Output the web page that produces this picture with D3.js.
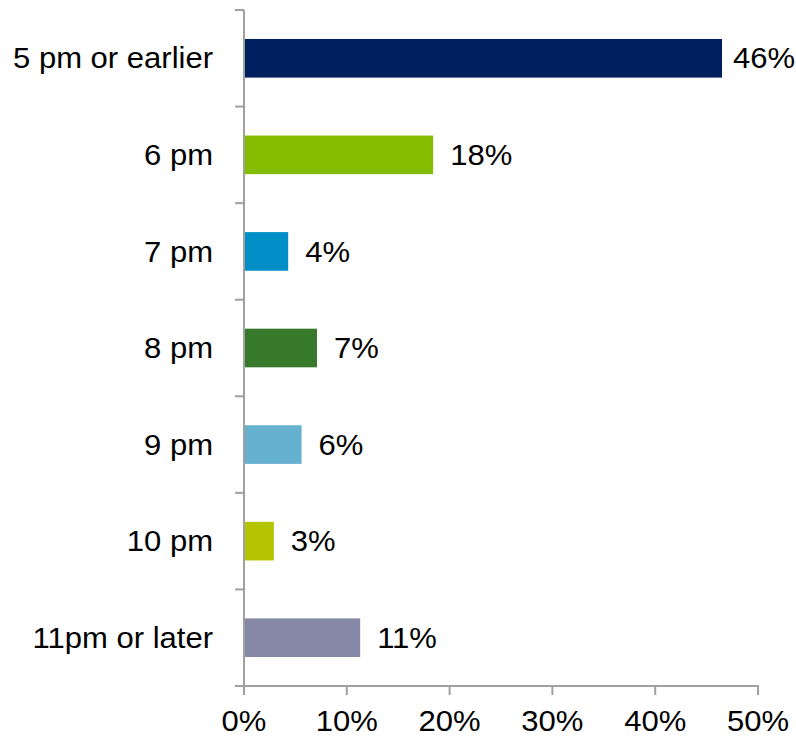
<!DOCTYPE html>
<html><head><meta charset="utf-8">
<script src="https://cdn.jsdelivr.net/npm/d3@7"></script>
<style>body{margin:0;background:#fff}svg{display:block}text{font-family:"Liberation Sans",Arial,sans-serif;fill:#000}</style>
</head><body>
<script>
const categories = ["5 pm or earlier","6 pm","7 pm","8 pm","9 pm","10 pm","11pm or later"];
const values = [46.5, 18.4, 4.3, 7.1, 5.6, 2.9, 11.3];
const labels = ["46%","18%","4%","7%","6%","3%","11%"];
const colors = ["#001F5F","#84BD00","#008FC6","#36792A","#66B1CF","#B5C400","#8589A5"];
const xTicks = [0,10,20,30,40,50];

const W=796,H=737, FS=29, SX=1.07;
const svg=d3.select("body").append("svg").attr("width",W).attr("height",H);
const x=d3.scaleLinear().domain([0,50]).range([244,758]);
const y=d3.scaleBand().domain(categories).range([10,686]).paddingInner(0.6).paddingOuter(0.3);
const yb=d3.scaleBand().domain(categories).range([10,686]);
const axisCol="#A0A0A0";

svg.selectAll("rect.bar").data(categories).join("rect").attr("class","bar")
 .attr("x",x(0)).attr("y",d=>y(d)).attr("height",y.bandwidth())
 .attr("width",(d,i)=>x(values[i])-x(0)).attr("fill",(d,i)=>colors[i]);

svg.append("line").attr("x1",244).attr("x2",244).attr("y1",10).attr("y2",686).attr("stroke",axisCol).attr("stroke-width",2);
const bounds=categories.map(c=>yb(c)).concat([686]);
svg.selectAll("line.yt").data(bounds).join("line").attr("class","yt")
 .attr("x1",235).attr("x2",244).attr("y1",d=>d).attr("y2",d=>d).attr("stroke",axisCol).attr("stroke-width",2);

svg.append("line").attr("x1",243).attr("x2",759).attr("y1",686).attr("y2",686).attr("stroke",axisCol).attr("stroke-width",2);
svg.selectAll("line.xt").data(xTicks).join("line").attr("class","xt")
 .attr("x1",d=>x(d)).attr("x2",d=>x(d)).attr("y1",686).attr("y2",695).attr("stroke",axisCol).attr("stroke-width",2);
svg.selectAll("text.xl").data(xTicks).join("text").attr("class","xl")
 .attr("transform",d=>`translate(${x(d)},731) scale(${SX},1)`).attr("text-anchor","middle").attr("font-size",FS).text(d=>d+"%");

svg.selectAll("text.cl").data(categories).join("text").attr("class","cl")
 .attr("transform",d=>`translate(213,${yb(d)+yb.bandwidth()/2}) scale(${SX},1)`).attr("dy","0.35em").attr("text-anchor","end")
 .attr("font-size",FS).text(d=>d);

svg.selectAll("text.vl").data(categories).join("text").attr("class","vl")
 .attr("transform",(d,i)=>`translate(${Math.min(x(values[i])+17,733)},${yb(d)+yb.bandwidth()/2}) scale(${SX},1)`).attr("dy","0.35em")
 .attr("font-size",FS).text((d,i)=>labels[i]);
</script>
</body></html>
